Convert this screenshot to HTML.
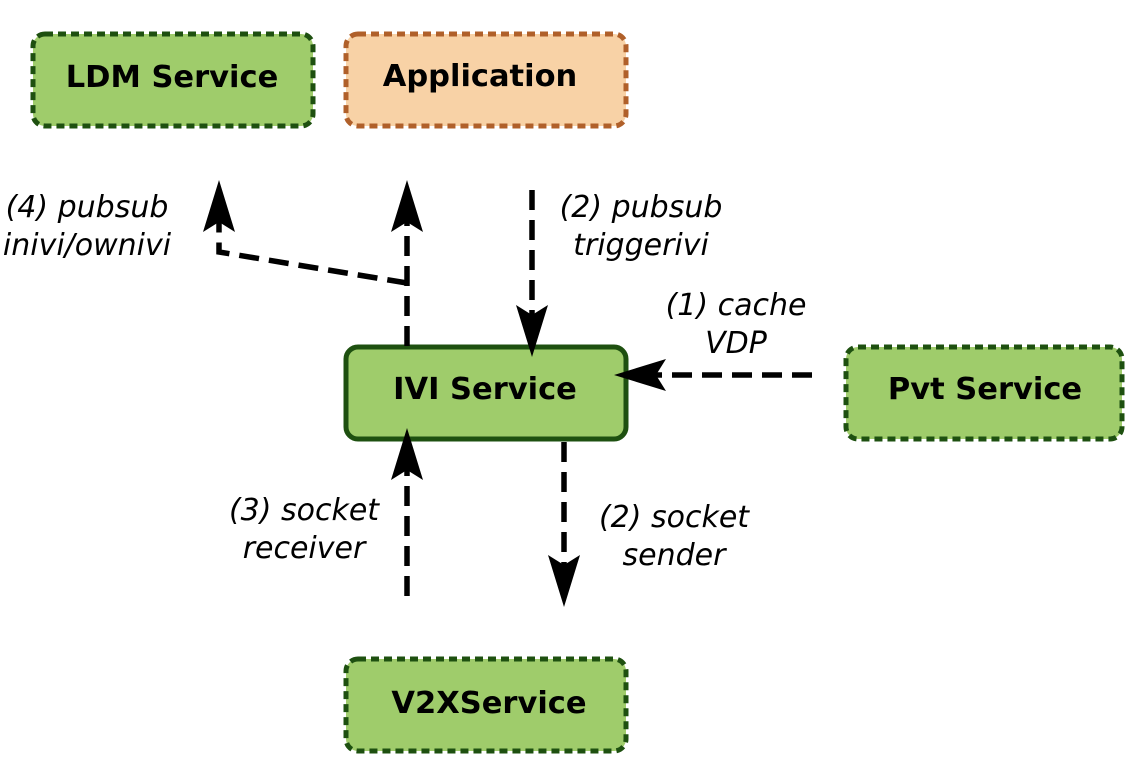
<!DOCTYPE html>
<html><head><meta charset="utf-8"><style>
html,body{margin:0;padding:0;background:#fff;}
svg{display:block;}
</style></head><body>
<svg width="1125" height="781" viewBox="0 0 1125 781" xmlns="http://www.w3.org/2000/svg">
<g stroke-width="5" stroke-dasharray="8,5">
<rect x="33" y="34" width="280" height="92" rx="12" fill="#9fcc6b" stroke="#1e5010"/>
<rect x="346" y="34" width="280" height="92" rx="12" fill="#f8d2a6" stroke="#b0602a"/>
<rect x="846" y="347" width="276" height="92" rx="12" fill="#9fcc6b" stroke="#1e5010"/>
<rect x="346" y="659" width="280" height="92" rx="12" fill="#9fcc6b" stroke="#1e5010"/>
</g>
<rect x="346" y="347" width="280" height="92" rx="12" fill="#9fcc6b" stroke="#1e5010" stroke-width="5"/>
<g font-family="DejaVu Sans, Liberation Sans, sans-serif" font-weight="bold" font-size="30.5" text-anchor="middle">
<text x="172" y="87">LDM Service</text>
<text x="480" y="86">Application</text>
<text x="485" y="399">IVI Service</text>
<text x="985" y="399">Pvt Service</text>
<text x="489" y="713">V2XService</text>
</g>
<g stroke="#000" stroke-width="5.5" fill="none" stroke-dasharray="20,10">
<path d="M407 346 V222"/>
<path d="M407 283 L219 252 V222"/>
<path d="M532 190 V318"/>
<path d="M812 375 H655"/>
<path d="M407 596 V470"/>
<path d="M564 442 V568"/>
</g>
<g fill="#000">
<path d="M407 180 L423 232 L407 222 L391 232 Z"/>
<path d="M219 180 L235 232 L219 222 L203 232 Z"/>
<path d="M532 357 L516 305 L532 315 L548 305 Z"/>
<path d="M614 375 L666 359 L656 375 L666 391 Z"/>
<path d="M407 428 L423 480 L407 470 L391 480 Z"/>
<path d="M564 607 L548 555 L564 565 L580 555 Z"/>
</g>
<g font-family="DejaVu Sans, Liberation Sans, sans-serif" font-style="italic" font-size="30" text-anchor="middle">
<text x="87" y="217">(4) pubsub</text>
<text x="87" y="255">inivi/ownivi</text>
<text x="641" y="217">(2) pubsub</text>
<text x="641" y="255">triggerivi</text>
<text x="736" y="315">(1) cache</text>
<text x="736" y="353">VDP</text>
<text x="304" y="520">(3) socket</text>
<text x="304" y="558">receiver</text>
<text x="674" y="527">(2) socket</text>
<text x="674" y="565">sender</text>
</g>
</svg>
</body></html>
